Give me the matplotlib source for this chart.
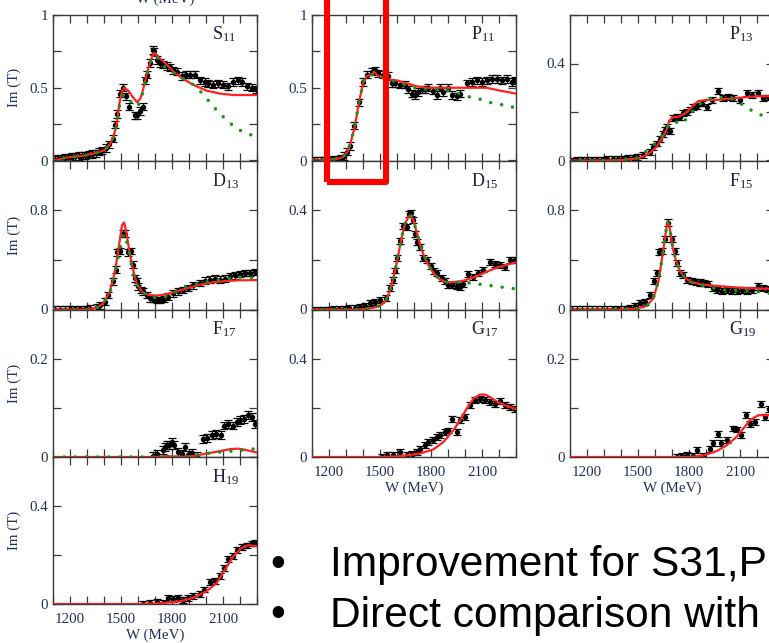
import matplotlib
matplotlib.use('Agg')
import matplotlib.pyplot as plt
from matplotlib.ticker import MultipleLocator, FuncFormatter
from matplotlib.patches import Rectangle

plt.rcParams['font.family'] = ['Liberation Serif', 'DejaVu Serif']
plt.rcParams['mathtext.fontset'] = 'custom'
plt.rcParams['mathtext.rm'] = 'Liberation Serif'
plt.rcParams['mathtext.it'] = 'Liberation Serif:italic'

# ---------------- S11 ----------------
S11_W = [1110, 1130, 1150, 1170, 1190, 1210, 1230, 1250, 1270, 1290, 1310, 1330, 1350, 1370, 1390, 1410, 1430, 1450,
         1465, 1478, 1494, 1514, 1529, 1549, 1582, 1596, 1612, 1627, 1641, 1651, 1671, 1686, 1696, 1710, 1729, 1749,
         1769, 1788, 1808, 1827, 1857, 1882, 1906, 1935, 1965, 1994, 2014, 2043, 2073, 2102, 2131, 2161, 2190, 2210,
         2239, 2269, 2294]
S11_Im = [0.005, 0.01, 0.015, 0.02, 0.022, 0.025, 0.028, 0.03, 0.032, 0.035, 0.04, 0.045, 0.05, 0.06, 0.07, 0.085, 0.11, 0.15,
          0.245, 0.32, 0.46, 0.50, 0.44, 0.37, 0.31, 0.31, 0.34, 0.37, 0.55, 0.59, 0.67, 0.76, 0.75, 0.69, 0.67, 0.66,
          0.65, 0.64, 0.62, 0.61, 0.58, 0.59, 0.59, 0.59, 0.55, 0.54, 0.53, 0.52, 0.53, 0.52, 0.51, 0.54, 0.55, 0.54,
          0.51, 0.50, 0.49]
S11_err = 0.025
S11_fit_W = [1100, 1180, 1280, 1360, 1400, 1435, 1455, 1475, 1490, 1505, 1518, 1543, 1573, 1596, 1616, 1635, 1655, 1675,
             1694, 1720, 1760, 1808, 1867, 1925, 2004, 2082, 2161, 2300]
S11_fit = [0, 0.02, 0.033, 0.054, 0.07, 0.11, 0.16, 0.25, 0.39, 0.47, 0.50, 0.48, 0.43, 0.40, 0.43, 0.51, 0.61, 0.69,
           0.74, 0.71, 0.67, 0.61, 0.56, 0.52, 0.48, 0.46, 0.45, 0.45]
S11_alt_W = [1100, 1180, 1280, 1360, 1400, 1435, 1455, 1475, 1490, 1505, 1518, 1543, 1573, 1596, 1616, 1635, 1655, 1675,
             1694, 1720, 1749, 1788, 1847, 1896, 1955, 1994, 2037, 2082, 2131, 2176, 2233, 2300]
S11_alt = [0, 0.02, 0.033, 0.054, 0.07, 0.11, 0.16, 0.25, 0.37, 0.44, 0.45, 0.43, 0.38, 0.37, 0.41, 0.50, 0.60, 0.68,
           0.72, 0.70, 0.65, 0.62, 0.57, 0.55, 0.49, 0.44, 0.38, 0.32, 0.27, 0.22, 0.19, 0.16]

# ---------------- P11 ----------------
P11_W = [1110, 1130, 1150, 1170, 1190, 1210, 1230, 1250, 1270, 1290, 1308, 1324, 1349, 1374, 1402, 1425, 1451, 1471,
         1490, 1516, 1549, 1569, 1588, 1618, 1647, 1667, 1686, 1706, 1725, 1745, 1765, 1784, 1814, 1833, 1853, 1873,
         1902, 1922, 1951, 1971, 2010, 2039, 2069, 2098, 2127, 2157, 2186, 2216, 2245, 2275, 2294]
P11_Im = [0, 0, 0, 0, 0, 0.002, 0.004, 0.008, 0.015, 0.03, 0.06, 0.10, 0.24, 0.40, 0.54, 0.59, 0.61, 0.62,
          0.60, 0.59, 0.58, 0.53, 0.53, 0.52, 0.52, 0.49, 0.46, 0.45, 0.47, 0.49, 0.49, 0.50, 0.48, 0.45, 0.50, 0.47,
          0.50, 0.45, 0.44, 0.46, 0.53, 0.54, 0.55, 0.54, 0.55, 0.56, 0.56, 0.55, 0.56, 0.54, 0.55]
P11_err = 0.025
P11_fit_W = [1100, 1245, 1284, 1308, 1327, 1353, 1378, 1402, 1422, 1451, 1465, 1490, 1539, 1598, 1657, 1716, 1775,
             1892, 2010, 2127, 2206, 2300]
P11_fit = [0, 0.01, 0.025, 0.06, 0.12, 0.24, 0.41, 0.54, 0.58, 0.59, 0.61, 0.58, 0.56, 0.55, 0.53, 0.51, 0.50,
           0.50, 0.50, 0.50, 0.48, 0.46]
P11_alt_W = [1100, 1245, 1284, 1308, 1327, 1353, 1378, 1402, 1422, 1451, 1480, 1520, 1560, 1600, 1650, 1700, 1755,
             1814, 1873, 1941, 2010, 2069, 2137, 2196, 2255, 2300]
P11_alt = [0, 0.01, 0.025, 0.06, 0.12, 0.24, 0.41, 0.54, 0.58, 0.59, 0.59, 0.57, 0.55, 0.54, 0.52, 0.50, 0.49,
           0.49, 0.485, 0.47, 0.44, 0.43, 0.40, 0.39, 0.37, 0.365]

# ---------------- P13 ----------------
P13_W = [1110, 1140, 1170, 1200, 1230, 1260, 1290, 1320, 1350, 1380, 1410, 1440, 1470, 1492, 1531, 1571, 1590, 1610,
         1629, 1645, 1659, 1673, 1688, 1708, 1727, 1747, 1767, 1786, 1806, 1825, 1845, 1874, 1904, 1933, 1972, 2002,
         2031, 2061, 2100, 2139, 2169, 2208, 2237, 2267, 2294]
P13_Im = [0, 0.001, 0.002, 0.002, 0.003, 0.003, 0.004, 0.005, 0.006, 0.007, 0.008, 0.01, 0.012, 0.013, 0.023, 0.036,
          0.057, 0.07, 0.09, 0.11, 0.126, 0.14, 0.12, 0.175, 0.178, 0.18, 0.195, 0.2, 0.21, 0.22, 0.225, 0.235, 0.22,
          0.25, 0.285, 0.257, 0.263, 0.257, 0.25, 0.277, 0.27, 0.28, 0.257, 0.26, 0.255]
P13_err = 0.012
P13_fit_W = [1100, 1300, 1400, 1492, 1531, 1571, 1610, 1649, 1669, 1684, 1708, 1737, 1767, 1796, 1822, 1855, 1904,
             1963, 2041, 2120, 2198, 2300]
P13_fit = [0, 0, 0.002, 0.008, 0.016, 0.032, 0.057, 0.10, 0.13, 0.165, 0.18, 0.18, 0.19, 0.205, 0.225, 0.245, 0.25,
           0.25, 0.255, 0.26, 0.265, 0.265]
P13_alt_W = [1100, 1300, 1400, 1492, 1551, 1600, 1645, 1688, 1720, 1757, 1806, 1835, 1884, 1943, 2012, 2080, 2129,
             2188, 2247, 2300]
P13_alt = [0, 0, 0.002, 0.01, 0.04, 0.07, 0.105, 0.155, 0.16, 0.15, 0.19, 0.215, 0.245, 0.26, 0.26, 0.25, 0.22,
           0.20, 0.18, 0.165]

# ---------------- D13 ----------------
D13_W = [1110, 1140, 1170, 1200, 1230, 1260, 1290, 1320, 1357, 1376, 1406, 1425, 1455, 1470, 1478, 1494, 1510, 1523,
         1543, 1557, 1569, 1582, 1592, 1602, 1616, 1631, 1651, 1671, 1690, 1710, 1729, 1753, 1778, 1808, 1837, 1867,
         1896, 1925, 1965, 1994, 2024, 2053, 2082, 2112, 2141, 2171, 2200, 2229, 2259, 2288]
D13_Im = [0, 0, 0, 0.001, 0.002, 0.003, 0.005, 0.008, 0.02, 0.035, 0.063, 0.117, 0.227, 0.32, 0.46, 0.47, 0.61, 0.61,
          0.46, 0.47, 0.36, 0.25, 0.227, 0.186, 0.158, 0.145, 0.117, 0.09, 0.085, 0.076, 0.076, 0.085, 0.104, 0.131,
          0.145, 0.158, 0.172, 0.194, 0.213, 0.232, 0.24, 0.248, 0.24, 0.248, 0.268, 0.276, 0.287, 0.295, 0.295, 0.303]
D13_err = 0.027
D13_fit_W = [1100, 1298, 1357, 1396, 1435, 1465, 1490, 1506, 1518, 1529, 1553, 1573, 1592, 1622, 1661, 1710, 1769,
             1827, 1886, 1965, 2043, 2122, 2200, 2300]
D13_fit = [0, 0, 0.014, 0.05, 0.145, 0.31, 0.53, 0.68, 0.70, 0.64, 0.44, 0.31, 0.21, 0.145, 0.117, 0.112, 0.123,
           0.145, 0.17, 0.20, 0.22, 0.23, 0.235, 0.237]
D13_alt_W = [1100, 1298, 1357, 1396, 1435, 1465, 1478, 1490, 1504, 1518, 1533, 1553, 1569, 1592, 1622, 1661, 1710,
             1769, 1827, 1886, 1965, 2043, 2122, 2200, 2250, 2300]
D13_alt = [0, 0, 0.014, 0.05, 0.14, 0.29, 0.39, 0.46, 0.55, 0.61, 0.55, 0.42, 0.29, 0.20, 0.145, 0.104, 0.096,
           0.104, 0.145, 0.186, 0.213, 0.232, 0.248, 0.26, 0.258, 0.25]

# ---------------- D15 ----------------
D15_W = [1110, 1140, 1170, 1200, 1230, 1260, 1290, 1320, 1350, 1380, 1410, 1441, 1471, 1500, 1535, 1559, 1575, 1588,
         1602, 1618, 1633, 1657, 1670, 1682, 1692, 1706, 1720, 1735, 1755, 1775, 1798, 1818, 1837, 1863, 1882, 1902,
         1922, 1951, 1971, 1990, 2020, 2049, 2078, 2108, 2147, 2176, 2206, 2235, 2265, 2294]
D15_Im = [0, 0, 0, 0, 0.001, 0.002, 0.003, 0.005, 0.008, 0.01, 0.015, 0.025, 0.031, 0.038, 0.048, 0.086, 0.12, 0.157,
          0.206, 0.277, 0.338, 0.334, 0.386, 0.389, 0.36, 0.304, 0.27, 0.25, 0.206, 0.198, 0.175, 0.154, 0.147, 0.127,
          0.116, 0.10, 0.097, 0.093, 0.089, 0.102, 0.143, 0.13, 0.147, 0.161, 0.192, 0.184, 0.18, 0.17, 0.2, 0.198]
D15_err = 0.012
D15_fit_W = [1100, 1382, 1461, 1500, 1529, 1549, 1569, 1588, 1608, 1627, 1647, 1667, 1680, 1696, 1716, 1735, 1755,
             1784, 1814, 1853, 1892, 1931, 1971, 2010, 2069, 2127, 2186, 2245, 2300]
D15_fit = [0, 0, 0.007, 0.015, 0.031, 0.059, 0.10, 0.154, 0.222, 0.29, 0.345, 0.373, 0.38, 0.36, 0.31, 0.263, 0.222,
           0.18, 0.147, 0.12, 0.11, 0.11, 0.113, 0.12, 0.134, 0.152, 0.168, 0.18, 0.19]
D15_alt_W = [1100, 1382, 1461, 1500, 1529, 1549, 1569, 1588, 1608, 1627, 1647, 1667, 1680, 1696, 1716, 1735, 1755,
             1784, 1814, 1853, 1892, 1931, 1971, 2010, 2049, 2127, 2196, 2300]
D15_alt = [0, 0, 0.007, 0.015, 0.031, 0.059, 0.10, 0.154, 0.222, 0.29, 0.345, 0.373, 0.38, 0.36, 0.31, 0.263, 0.222,
           0.18, 0.147, 0.12, 0.11, 0.11, 0.11, 0.108, 0.105, 0.098, 0.092, 0.083]

# ---------------- F15 ----------------
F15_W = [1110, 1140, 1170, 1200, 1230, 1260, 1290, 1320, 1350, 1380, 1424, 1453, 1482, 1512, 1541, 1571, 1594, 1610,
         1625, 1639, 1659, 1675, 1698, 1718, 1731, 1747, 1767, 1786, 1816, 1841, 1865, 1888, 1914, 1943, 1963, 1992,
         2022, 2051, 2080, 2110, 2139, 2169, 2208, 2237, 2267]
F15_Im = [0, 0, 0, 0, 0, 0, 0, 0, 0.001, 0.001, 0.003, 0.014, 0.03, 0.049, 0.063, 0.117, 0.227, 0.295,
          0.46, 0.47, 0.57, 0.70, 0.57, 0.47, 0.377, 0.295, 0.276, 0.24, 0.227, 0.22, 0.218, 0.213, 0.205, 0.172, 0.158,
          0.15, 0.158, 0.15, 0.15, 0.158, 0.15, 0.158, 0.186, 0.172, 0.167]
F15_err = 0.025
F15_fit_W = [1100, 1394, 1492, 1551, 1590, 1620, 1639, 1659, 1673, 1684, 1704, 1724, 1747, 1776, 1816, 1865, 1924,
             2002, 2080, 2159, 2300]
F15_fit = [0, 0, 0.008, 0.03, 0.09, 0.227, 0.39, 0.58, 0.71, 0.68, 0.50, 0.39, 0.31, 0.254, 0.22, 0.205, 0.194,
           0.186, 0.177, 0.172, 0.165]
F15_alt_W = [1100, 1394, 1492, 1551, 1590, 1620, 1639, 1659, 1673, 1684, 1704, 1724, 1747, 1776, 1816, 1865, 1924,
             2002, 2080, 2159, 2220, 2300]
F15_alt = [0, 0, 0.008, 0.03, 0.09, 0.227, 0.39, 0.58, 0.71, 0.68, 0.50, 0.39, 0.31, 0.254, 0.22, 0.2, 0.177,
           0.158, 0.15, 0.15, 0.14, 0.125]

# ---------------- F17 ----------------
F17_W = [1690, 1714, 1745, 1759, 1769, 1784, 1798, 1812, 1837, 1857, 1876, 1896, 1916, 1945, 1984, 2008, 2033, 2059,
         2086, 2106, 2131, 2157, 2180, 2200, 2224, 2249, 2269, 2288]
F17_Im = [0.003, 0.007, 0.014, 0.02, 0.024, 0.025, 0.03, 0.025, 0.01, 0.007, 0.02, 0.005, 0.009, 0.003, 0.037, 0.039,
          0.044, 0.047, 0.045, 0.064, 0.068, 0.064, 0.071, 0.075, 0.078, 0.085, 0.081, 0.068]
F17_err = 0.008
F17_fit_W = [1100, 1690, 1769, 1847, 1925, 2004, 2082, 2141, 2190, 2239, 2300]
F17_fit = [0, 0, 0.002, 0, 0.002, 0.007, 0.012, 0.016, 0.017, 0.014, 0.009]
F17_alt_W = [1100, 1900, 1965, 2043, 2122, 2210, 2300]
F17_alt = [0, 0, 0.005, 0.009, 0.011, 0.014, 0.017]

# ---------------- G17 ----------------
G17_W = [1510, 1539, 1578, 1618, 1657, 1686, 1716, 1735, 1765, 1784, 1810, 1833, 1853, 1882, 1902, 1922, 1951, 1971,
         2000, 2029, 2059, 2088, 2118, 2147, 2176, 2206, 2235, 2265, 2294]
G17_Im = [0, 0.007, 0.009, 0.02, 0.009, 0.014, 0.02, 0.034, 0.05, 0.061, 0.068, 0.081, 0.088, 0.102, 0.108, 0.156,
          0.102, 0.149, 0.163, 0.21, 0.231, 0.235, 0.231, 0.224, 0.217, 0.226, 0.21, 0.203, 0.197]
G17_err = 0.012
G17_fit_W = [1100, 1500, 1618, 1735, 1814, 1873, 1931, 1971, 2010, 2049, 2088, 2118, 2147, 2186, 2235, 2300]
G17_fit = [0, 0, 0.003, 0.014, 0.031, 0.061, 0.108, 0.149, 0.197, 0.237, 0.254, 0.254, 0.244, 0.226, 0.21, 0.195]

# ---------------- G19 ----------------
G19_W = [1727, 1757, 1786, 1825, 1849, 1884, 1924, 1943, 1973, 1986, 2022, 2061, 2080, 2104, 2135, 2159, 2188, 2222,
         2247, 2271]
G19_Im = [0, 0.003, 0.005, 0.003, 0.014, 0.003, 0.017, 0.029, 0.047, 0.029, 0.034, 0.058, 0.056, 0.044, 0.086, 0.068,
          0.071, 0.108, 0.081, 0.098]
G19_err = 0.006
G19_fit_W = [1100, 1806, 1884, 1963, 2022, 2080, 2120, 2159, 2208, 2271, 2300]
G19_fit = [0, 0, 0.003, 0.012, 0.024, 0.041, 0.058, 0.075, 0.085, 0.085, 0.083]

# ---------------- H19 ----------------
H19_W = [1631, 1671, 1710, 1749, 1778, 1804, 1837, 1867, 1896, 1925, 1965, 1988, 2024, 2053, 2082, 2106, 2131, 2157,
         2184, 2210, 2239, 2269, 2288]
H19_Im = [0.001, 0.004, 0.007, 0.004, 0.025, 0.02, 0.025, 0.018, 0.025, 0.031, 0.042, 0.059, 0.089, 0.093, 0.116,
          0.147, 0.184, 0.195, 0.222, 0.233, 0.239, 0.247, 0.25]
H19_err = 0.012
H19_fit_W = [1100, 1612, 1729, 1847, 1925, 2004, 2063, 2112, 2161, 2210, 2249, 2300]
H19_fit = [0, 0, 0.003, 0.011, 0.025, 0.052, 0.086, 0.141, 0.195, 0.229, 0.24, 0.236]

# panel labels, y ranges and y tick steps
PANELS = [
    # letter, subscript, col, row, ymax, major, minor, data, err, fit, alt, xlabels
    ('S', '11', 0, 0, 1.0, 0.5, 0.25, (S11_W, S11_Im), S11_err, (S11_fit_W, S11_fit), (S11_alt_W, S11_alt), False),
    ('P', '11', 1, 0, 1.0, 0.5, 0.25, (P11_W, P11_Im), P11_err, (P11_fit_W, P11_fit), (P11_alt_W, P11_alt), False),
    ('P', '13', 2, 0, 0.6, 0.4, 0.2, (P13_W, P13_Im), P13_err, (P13_fit_W, P13_fit), (P13_alt_W, P13_alt), False),
    ('D', '13', 0, 1, 1.2, 0.8, 0.4, (D13_W, D13_Im), D13_err, (D13_fit_W, D13_fit), (D13_alt_W, D13_alt), False),
    ('D', '15', 1, 1, 0.6, 0.4, 0.2, (D15_W, D15_Im), D15_err, (D15_fit_W, D15_fit), (D15_alt_W, D15_alt), False),
    ('F', '15', 2, 1, 1.2, 0.8, 0.4, (F15_W, F15_Im), F15_err, (F15_fit_W, F15_fit), (F15_alt_W, F15_alt), False),
    ('F', '17', 0, 2, 0.3, 0.2, 0.1, (F17_W, F17_Im), F17_err, (F17_fit_W, F17_fit), (F17_alt_W, F17_alt), False),
    ('G', '17', 1, 2, 0.6, 0.4, 0.2, (G17_W, G17_Im), G17_err, (G17_fit_W, G17_fit), None, True),
    ('G', '19', 2, 2, 0.3, 0.2, 0.1, (G19_W, G19_Im), G19_err, (G19_fit_W, G19_fit), None, True),
    ('H', '19', 0, 3, 0.6, 0.4, 0.2, (H19_W, H19_Im), H19_err, (H19_fit_W, H19_fit), None, True),
]

W_MIN, W_MAX = 1100, 2300
X_MAJOR = [1200, 1500, 1800, 2100]

FIG_W, FIG_H = 769, 643
COL_LEFT = [53, 312, 570]
AX_W = 204
ROW_EDGES = [15, 160.5, 309.5, 457, 604]

SPINE = '#3a3a3a'
LABEL_C = '#22305a'
FS = 10.8

fig = plt.figure(figsize=(FIG_W / 100, FIG_H / 100), dpi=100)

for (let, sub, col, row, ymax, major, minor, data, err, fit, alt, xlab) in PANELS:
    top, bot = ROW_EDGES[row], ROW_EDGES[row + 1]
    ax = fig.add_axes([COL_LEFT[col] / FIG_W, 1 - bot / FIG_H, AX_W / FIG_W, (bot - top) / FIG_H])
    ax.errorbar(data[0], data[1], yerr=err, fmt='o', ms=2.9, color='black', ecolor='black',
                elinewidth=0.9, capsize=2.8, capthick=0.9, zorder=2)
    ax.plot(fit[0], fit[1], color='#ff2020', lw=1.6, zorder=3)
    if alt is not None:
        ax.plot(alt[0], alt[1], color='#12960f', lw=2.5, linestyle=(0, (0.01, 3.2)),
                dash_capstyle='round', zorder=4)
    ax.set_xlim(W_MIN, W_MAX)
    ax.set_ylim(0, ymax)
    ax.xaxis.set_major_locator(plt.FixedLocator(X_MAJOR))
    ax.xaxis.set_minor_locator(MultipleLocator(100))
    ax.yaxis.set_major_locator(MultipleLocator(major))
    ax.yaxis.set_minor_locator(MultipleLocator(minor))
    ax.yaxis.set_major_formatter(FuncFormatter(lambda v, p: f'{v:g}'))
    ax.tick_params(which='both', direction='in', top=True, right=True, length=5.5, width=0.9,
                   color=SPINE, labelsize=FS, labelcolor=LABEL_C, pad=3.5)
    ax.tick_params(axis='x', which='both', labelbottom=xlab, pad=6.2)
    for s in ax.spines.values():
        s.set_color(SPINE)
        s.set_linewidth(1.0)
    ax.text(0.78, 0.83, r'$\mathrm{%s}_{\mathrm{%s}}$' % (let, sub), transform=ax.transAxes,
            fontsize=13, ha='left', va='baseline', color='#1a2040')
    if col == 0:
        ax.set_ylabel('Im (T)', fontsize=FS, color=LABEL_C)
        ax.yaxis.set_label_coords(-0.157, 0.5)
    if xlab:
        ax.set_xlabel('W (MeV)', fontsize=FS, color=LABEL_C, labelpad=2.2)

# partially visible axis title of a panel above the crop
fig.text(165 / FIG_W, 1 - 3 / FIG_H, 'W (MeV)', ha='center', va='baseline', fontsize=FS, color=LABEL_C)

# red highlight box
rect = Rectangle((326.5 / FIG_W, 1 - 182 / FIG_H), 60 / FIG_W, 200 / FIG_H, transform=fig.transFigure,
                 fill=False, edgecolor='#ff0000', lw=4.4, joinstyle='round', zorder=10)
fig.add_artist(rect)

# slide bullet text
SANS = ['Liberation Sans', 'DejaVu Sans']
TS = 30.6
fig.text(270 / FIG_W, 1 - 576 / FIG_H, '\u2022', fontsize=TS, family=SANS, va='baseline', color='black')
fig.text(330.5 / FIG_W, 1 - 576 / FIG_H, 'Improvement for S31,P', fontsize=TS, family=SANS, va='baseline', color='black')
fig.text(270 / FIG_W, 1 - 626.5 / FIG_H, '\u2022', fontsize=TS, family=SANS, va='baseline', color='black')
fig.text(330.5 / FIG_W, 1 - 626.5 / FIG_H, 'Direct comparison with', fontsize=TS, family=SANS, va='baseline', color='black')

fig.savefig('out.png', dpi=100)
